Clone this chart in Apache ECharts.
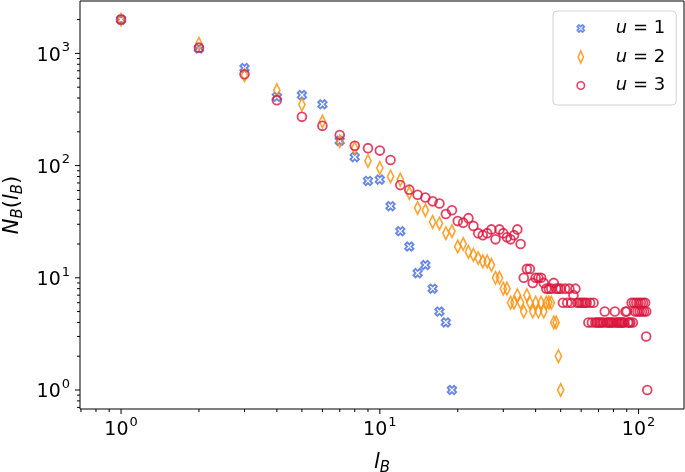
<!DOCTYPE html>
<html>
<head>
<meta charset="utf-8">
<script src="https://cdn.jsdelivr.net/npm/echarts@6/dist/echarts.min.js"></script>
<style>html,body{margin:0;padding:0;background:#fff}#c{width:685px;height:472px}</style>
</head>
<body>
<div id="c"></div>
<script>
// ---- data ----
const lB_u1 = [1,2,3,4,5,6,7,8,9,10,11,12,13,14,15,16,17,18,19];
const NB_u1 = [2000,1105,740,410,425,352,166,119,73,75,43.5,26,19,11,13,8,5,4,1];

const lB_u2 = [1,2,3,4,5,6,7,8,9,10,11,12,13,14,15,16,17,18,19,20,21,22,23,24,25,26,27,28,29,30,31,32,33,34,35,36,37,38,39,40,41,42,43,44,45,46,47,48,49,50];
const NB_u2 = [2000,1220,640,470,350,247,165,143,110,95,80,75,57,42,40,31.5,30.5,25,26,19,20,17,16,15,14,14,13,10,10,8,8,6,6,7,6,5,7,6,5,6,5,6,5,6,6,6,4,4,2,1];

const lB_u3 = [1,2,3,4,5,6,7,8,9,10,11,12,13,14,15,16,17,18,19,20,21,22,23,24,25,26,27,28,29,30,31,32,33,34,35,
  36,37,38,39,40,41,42,43,44,45,46,47,48,49,50,51,52,53,54,55,56,57,58,59,60,61,62,63,64,65,66,67,68,69,70,
  71,72,73,74,75,76,77,78,79,80,81,82,83,84,85,86,87,88,89,90,91,92,93,94,95,96,97,98,99,100,101,102,103,104,105,106,107,107,108];
const NB_u3 = [2000,1125,651,383,272,226,187,150,143,136,112,67,61,55,52,48,46,37,40,32,31,34,29,25,24,25,27,22,27,25,23,22,24,27,20,
  10,12,12,9,10,10,10,9,8,8,8,9,8,8,8,6,8,6,8,6,7,8,6,6,6,6,6,6,4,6,4,6,4,4,4,
  4,4,4,5,4,4,4,4,4,4,5,4,4,4,4,4,4,4,5,5,4,4,4,6,4,6,5,6,5,6,5,6,5,6,5,6,5,3,1];

const seriesNames = ['u = 1', 'u = 2', 'u = 3'];
const xMajorTicks = [1, 10, 100];
const xMinorTicks = [0.7,0.8,0.9,2,3,4,5,6,7,8,9,20,30,40,50,60,70,80,90];
const yMajorTicks = [1, 10, 100, 1000];
const yMinorTicks = [0.7,0.8,0.9,2,3,4,5,6,7,8,9,20,30,40,50,60,70,80,90,200,300,400,500,600,700,800,900,2000];

// ---- layout / style ----
const xMin = 0.694, xMax = 149.8, yMin = 0.677, yMax = 2930;
const FONT = 'DejaVu Sans';
const cBlue = 'rgba(65,105,225,0.8)', cOrange = 'rgba(255,140,0,0.8)', cRed = 'rgba(220,20,60,0.8)';
const xPath = 'path://M2.5 0L5 2.5L7.5 0L10 2.5L7.5 5L10 7.5L7.5 10L5 7.5L2.5 10L0 7.5L2.5 5L0 2.5Z';
const legX = 'path://M0 0M12 14M4.25 3.5L6 5.25L7.75 3.5L9.5 5.25L7.75 7L9.5 8.75L7.75 10.5L6 8.75L4.25 10.5L2.5 8.75L4.25 7L2.5 5.25Z';
const legD = 'path://M0 0M12 14M6 1L8.6 7L6 13L3.4 7Z';
const legO = 'path://M0 0M12 14M2.3 7A3.7 3.7 0 1 1 9.7 7A3.7 3.7 0 1 1 2.3 7Z';

function pairs(xs, ys) { return xs.map((x, i) => [x, ys[i]]); }

function tickSeries(axis, values, len) {
  const inRange = values.filter(v => axis === 'x' ? (v >= xMin && v <= xMax) : (v >= yMin && v <= yMax));
  return {
    type: 'custom', silent: true, z: 10,
    data: inRange.map(v => axis === 'x' ? [v, yMin] : [xMin, v]),
    renderItem: function (params, api) {
      const p = api.coord([api.value(0), api.value(1)]);
      if (axis === 'x') {
        return {type: 'line', shape: {x1: p[0], y1: p[1], x2: p[0], y2: p[1] + len}, style: {stroke: '#000', lineWidth: 1}};
      }
      return {type: 'line', shape: {x1: p[0], y1: p[1], x2: p[0] - len, y2: p[1]}, style: {stroke: '#000', lineWidth: 1}};
    }
  };
}

function powLabel(v) {
  const e = Math.log10(v);
  if (Math.abs(e - Math.round(e)) > 1e-6) return '';
  return '{b|10}{sup|' + Math.round(e) + '}';
}
const labelRich = {
  b: {fontFamily: FONT, fontSize: 19, color: '#000', lineHeight: 24, verticalAlign: 'bottom'},
  sup: {fontFamily: FONT, fontSize: 13, color: '#000', lineHeight: 13, verticalAlign: 'top', padding: [0, 0, 0, 1]}
};

const chart = echarts.init(document.getElementById('c'), null, {renderer: 'canvas'});
chart.setOption({
  animation: false,
  backgroundColor: '#fff',
  grid: {left: 80, right: 1, top: 1, bottom: 63, show: true, borderColor: '#000', borderWidth: 1, backgroundColor: 'transparent', containLabel: false, outerBoundsMode: 'none'},
  xAxis: {
    type: 'log', logBase: 10, min: xMin, max: xMax,
    axisLine: {show: false}, axisTick: {show: false}, splitLine: {show: false}, minorTick: {show: false},
    axisLabel: {formatter: powLabel, margin: 7, rich: labelRich, showMinLabel: false, showMaxLabel: false},
    name: '{i|l}{s|B}', nameLocation: 'middle', nameGap: 43,
    nameTextStyle: {rich: {
      i: {fontFamily: FONT, fontStyle: 'italic', fontSize: 21, color: '#000', lineHeight: 24, verticalAlign: 'top'},
      s: {fontFamily: FONT, fontStyle: 'italic', fontSize: 15, color: '#000', lineHeight: 15, verticalAlign: 'bottom'}
    }}
  },
  yAxis: {
    type: 'log', logBase: 10, min: yMin, max: yMax,
    axisLine: {show: false}, axisTick: {show: false}, splitLine: {show: false}, minorTick: {show: false},
    axisLabel: {formatter: powLabel, margin: 10, rich: labelRich, showMinLabel: false, showMaxLabel: false},
    name: '{i|N}{s|B}{p|(}{i|l}{s|B}{p|)}', nameLocation: 'middle', nameGap: 54, nameRotate: 90,
    nameTextStyle: {rich: {
      i: {fontFamily: FONT, fontStyle: 'italic', fontSize: 21, color: '#000', lineHeight: 24, verticalAlign: 'top'},
      p: {fontFamily: FONT, fontSize: 21, color: '#000', lineHeight: 24, verticalAlign: 'top'},
      s: {fontFamily: FONT, fontStyle: 'italic', fontSize: 15, color: '#000', lineHeight: 15, verticalAlign: 'bottom'}
    }}
  },
  legend: {
    orient: 'vertical', left: 553, top: 11,
    itemWidth: 12, itemHeight: 14, itemGap: 10.5,
    padding: [8.5, 11, 10.5, 21],
    backgroundColor: 'rgba(255,255,255,0.8)', borderColor: '#d3d3d3', borderWidth: 1, borderRadius: 4,
    selectedMode: false,
    itemStyle: {borderWidth: 1.6},
    formatter: function (name) { return '{i|u}{t|' + name.slice(1) + '}'; },
    textStyle: {fontFamily: FONT, fontSize: 18, color: '#000', lineHeight: 17,
      rich: {
        i: {fontFamily: FONT, fontStyle: 'italic', fontSize: 18, color: '#000', padding: [0, 0, 0, 24]},
        t: {fontFamily: FONT, fontSize: 18, color: '#000'}
      }},
    data: [
      {name: seriesNames[0], icon: legX, itemStyle: {color: 'rgba(0,0,0,0)', borderColor: cBlue, borderWidth: 1.6}},
      {name: seriesNames[1], icon: legD, itemStyle: {color: 'rgba(0,0,0,0)', borderColor: cOrange, borderWidth: 1.6}},
      {name: seriesNames[2], icon: legO, itemStyle: {color: 'rgba(0,0,0,0)', borderColor: cRed, borderWidth: 1.6}}
    ]
  },
  series: [
    {name: seriesNames[0], type: 'scatter', data: pairs(lB_u1, NB_u1), symbol: xPath, symbolSize: 8.5,
      itemStyle: {color: 'rgba(0,0,0,0)', borderColor: cBlue, borderWidth: 1.8, opacity: 1}},
    {name: seriesNames[1], type: 'scatter', data: pairs(lB_u2, NB_u2), symbol: 'diamond', symbolSize: [6.2, 12.5],
      itemStyle: {color: 'rgba(0,0,0,0)', borderColor: cOrange, borderWidth: 1.8, opacity: 1}},
    {name: seriesNames[2], type: 'scatter', data: pairs(lB_u3, NB_u3), symbol: 'circle', symbolSize: 8.8,
      itemStyle: {color: 'rgba(0,0,0,0)', borderColor: cRed, borderWidth: 1.8, opacity: 1}},
    tickSeries('x', xMajorTicks, 5),
    tickSeries('x', xMinorTicks, 3),
    tickSeries('y', yMajorTicks, 5),
    tickSeries('y', yMinorTicks, 3)
  ]
});
</script>
</body>
</html>
